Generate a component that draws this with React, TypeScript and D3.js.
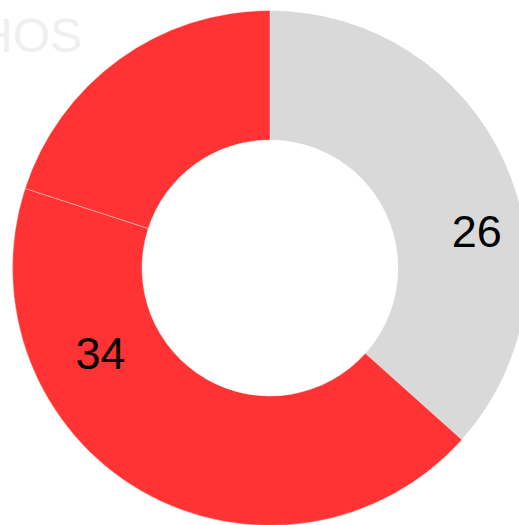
import React from 'react';
import * as d3 from 'd3';

const sliceValues = [26, 30.8, 14.2];
const sliceLabels = ['26', '34', ''];
const sliceColors = ['#d9d9d9', '#ff3333', '#ff3333'];
const titleText = 'HOS';

const width = 519;
const height = 525;
const cx = 270;
const cy = 268;
const outerR = 257.5;
const innerR = 128;

// where along each slice (fraction of its angle) the label sits, and at what radius
const labelFrac = [0.607, 0.713, 0.5];
const labelR = [210, 190, 190];

const App = () => {
    const pie = d3.pie<number>().sort(null).value(d => d);
    const arcs = pie(sliceValues);

    const arc = d3.arc<d3.PieArcDatum<number>>()
        .innerRadius(innerR)
        .outerRadius(outerR);

    return (
        <svg
            width={width}
            height={height}
            style={{ position: 'absolute', left: 0, top: 0, display: 'block' }}
            fontFamily="'Liberation Sans', Arial, sans-serif"
        >
            <rect width={width} height={height} fill="#ffffff" />
            <text
                x={82}
                y={52}
                textAnchor="end"
                fontSize={48}
                fill="#efefef"
            >
                {titleText}
            </text>
            <g transform={`translate(${cx},${cy})`}>
                {arcs.map((a, i) => (
                    <path
                        key={i}
                        d={arc(a) || ''}
                        fill={sliceColors[i]}
                        stroke="#ffffff"
                        strokeWidth={0.6}
                        strokeOpacity={0.6}
                    />
                ))}
                {arcs.map((a, i) => {
                    if (!sliceLabels[i]) return null;
                    const ang = a.startAngle + (a.endAngle - a.startAngle) * labelFrac[i];
                    const x = Math.sin(ang) * labelR[i];
                    const y = -Math.cos(ang) * labelR[i];
                    return (
                        <text
                            key={'l' + i}
                            x={x}
                            y={y}
                            textAnchor="middle"
                            dominantBaseline="central"
                            fontSize={45}
                            fill="#000000"
                        >
                            {sliceLabels[i]}
                        </text>
                    );
                })}
            </g>
        </svg>
    );
};

export default App;
